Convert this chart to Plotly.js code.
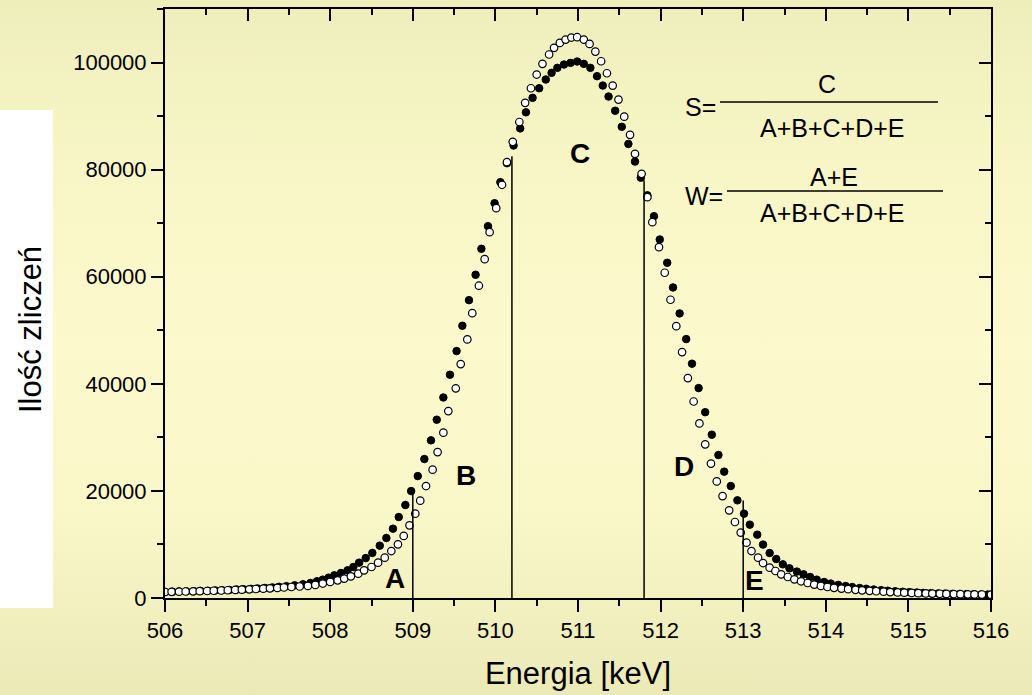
<!DOCTYPE html>
<html>
<head>
<meta charset="utf-8">
<script src="https://cdn.plot.ly/plotly-3.0.1.min.js"></script>
<style>
  html, body { margin: 0; padding: 0; }
  body {
    width: 1032px; height: 695px; overflow: hidden;
    background: linear-gradient(to bottom, #eeeebb 0%, #f8f6c6 25%, #fcfacd 50%, #f9f7c8 75%, #ebe9b6 100%);
  }
  #chart { width: 1032px; height: 695px; }
</style>
</head>
<body>
<div id="chart"></div>
<script>
// ---- data ----
const energyFilled = [506.00,506.09,506.17,506.26,506.35,506.43,506.52,506.61,506.69,506.78,506.87,506.95,507.04,507.12,507.21,507.30,507.38,507.47,507.57,507.67,507.76,507.84,507.91,507.98,508.05,508.13,508.21,508.28,508.35,508.43,508.51,508.60,508.68,508.76,508.83,508.91,508.98,509.06,509.14,509.22,509.29,509.37,509.45,509.53,509.60,509.68,509.76,509.83,509.91,509.99,510.06,510.14,510.22,510.30,510.37,510.45,510.53,510.61,510.68,510.75,510.83,510.91,510.99,511.07,511.15,511.23,511.30,511.37,511.45,511.53,511.61,511.69,511.76,511.84,511.92,511.99,512.08,512.15,512.23,512.31,512.38,512.46,512.54,512.62,512.70,512.77,512.85,512.93,513.01,513.08,513.17,513.24,513.32,513.40,513.48,513.56,513.65,513.73,513.81,513.89,513.98,514.06,514.15,514.24,514.32,514.41,514.49,514.58,514.67,514.75,514.84,514.93,515.01,515.10,515.18,515.27,515.36,515.44,515.53,515.62,515.70,515.79,515.88,515.96];
const countsFilled = [1140,1170,1200,1240,1280,1320,1360,1410,1460,1510,1570,1640,1710,1790,1880,1980,2090,2210,2370,2560,2800,3120,3430,3800,4240,4670,5170,5790,6600,7450,8420,9780,11200,12950,15120,17360,19970,22770,25950,29440,33300,37450,41700,46110,50850,55630,60370,65220,69440,73730,77660,81200,84500,87700,90700,93410,95200,96830,98080,99010,99630,99940,100190,99760,99010,97450,95700,93650,91000,88000,84800,81500,78500,75200,71310,66960,62610,58000,53150,48350,43760,39200,34700,30500,26700,23600,20910,18240,15750,13700,11830,9970,8400,7280,6290,5540,4930,4420,3920,3430,2990,2700,2450,2230,2040,1870,1720,1590,1470,1360,1260,1170,1090,1020,960,900,850,810,770,740,710,690,670,650];

const energyOpen = [506.00,506.08,506.17,506.25,506.34,506.42,506.51,506.59,506.68,506.76,506.85,506.93,507.02,507.10,507.19,507.27,507.36,507.44,507.53,507.63,507.73,507.82,507.91,508.00,508.09,508.17,508.25,508.34,508.41,508.50,508.58,508.66,508.74,508.82,508.89,508.96,509.03,509.09,509.16,509.24,509.30,509.37,509.43,509.52,509.58,509.66,509.72,509.80,509.87,509.93,510.01,510.08,510.14,510.21,510.29,510.36,510.43,510.50,510.57,510.65,510.71,510.78,510.85,510.92,510.99,511.07,511.14,511.21,511.28,511.35,511.42,511.49,511.56,511.63,511.69,511.77,511.84,511.90,511.98,512.05,512.12,512.19,512.26,512.33,512.40,512.47,512.54,512.61,512.68,512.75,512.83,512.90,512.97,513.04,513.10,513.18,513.24,513.32,513.39,513.46,513.54,513.62,513.70,513.78,513.86,513.94,514.02,514.10,514.19,514.27,514.36,514.44,514.53,514.61,514.70,514.78,514.87,514.95,515.04,515.12,515.21,515.29,515.38,515.46,515.55,515.63,515.72,515.80,515.89,516.00];
const countsOpen = [1120,1150,1180,1210,1240,1270,1310,1350,1400,1450,1500,1560,1620,1680,1740,1810,1880,1960,2050,2150,2260,2440,2700,3000,3300,3620,4050,4550,5170,5790,6600,7540,8770,10020,11600,13570,15750,18180,20910,23970,27250,30880,34910,39150,43680,48290,53200,58320,63280,68320,72800,77170,81390,85200,88900,92470,95200,97760,99760,101500,102740,103670,104290,104670,104730,104290,103480,102050,100240,98000,95700,93090,89900,86500,82950,79220,74860,70190,65520,60740,55700,50770,45920,41070,36700,32600,28700,25100,21780,19040,16370,14190,12210,10340,8770,7540,6530,5670,5040,4420,3920,3490,3120,2800,2500,2250,2050,1900,1760,1640,1530,1430,1340,1260,1180,1110,1050,990,940,900,860,820,790,760,740,710,690,670,650,630];

// region boundaries (energy) and the height each boundary line reaches
const boundaryEnergy = [509.0, 510.2, 511.8, 513.0];
const boundaryTop = [19800, 82500, 78000, 18200];

// region letters
const regionLabels = ["A", "B", "C", "D", "E"];
const regionLabelEnergy = [508.78, 509.64, 511.02, 512.28, 513.14];
const regionLabelCounts = [3700, 22900, 83000, 24600, 3300];

const xTitle = "Energia [keV]";
const yTitle = "Ilość zliczeń";
const xRange = [506, 516];
const yRange = [0, 110000];

// ---- layout helpers (pixel -> paper) ----
const M = {l: 165, r: 41, t: 9, b: 97};
const W = 1032, H = 695;
const PW = W - M.l - M.r, PH = H - M.t - M.b;
const px = x => (x - M.l) / PW;
const py = y => (H - M.b - y) / PH;

const FONT = "Liberation Sans, Arial, Helvetica, sans-serif";

const traces = [
  {
    x: energyFilled, y: countsFilled, type: "scatter", mode: "markers",
    marker: {symbol: "circle", size: 7.5, color: "#000000", line: {color: "#000000", width: 1}},
    hoverinfo: "x+y", showlegend: false
  },
  {
    x: energyOpen, y: countsOpen, type: "scatter", mode: "markers",
    marker: {symbol: "circle", size: 7.5, color: "#ffffff", line: {color: "#000000", width: 1.2}},
    hoverinfo: "x+y", showlegend: false
  },
  {
    x: energyOpen, y: countsOpen, xaxis: "x2", yaxis: "y2", type: "scatter", mode: "markers",
    marker: {size: 1, opacity: 0}, hoverinfo: "skip", showlegend: false
  }
];

const shapes = [];
// white panel behind y title
shapes.push({type: "rect", xref: "paper", yref: "paper", layer: "below",
  x0: px(0), x1: px(53), y0: py(608), y1: py(110),
  fillcolor: "#ffffff", line: {width: 0}});
// region boundary lines
boundaryEnergy.forEach((e, i) => {
  shapes.push({type: "line", xref: "x", yref: "y", x0: e, x1: e, y0: 0, y1: boundaryTop[i],
    line: {color: "#000000", width: 1.5}});
});
// fraction bars
shapes.push({type: "line", xref: "paper", yref: "paper", x0: px(720), x1: px(938), y0: py(102), y1: py(102), line: {color: "#000", width: 1.3}});
shapes.push({type: "line", xref: "paper", yref: "paper", x0: px(727), x1: px(943), y0: py(191), y1: py(191), line: {color: "#000", width: 1.3}});

const annotations = [];
regionLabels.forEach((t, i) => {
  annotations.push({x: regionLabelEnergy[i], y: regionLabelCounts[i], xref: "x", yref: "y",
    text: "<b>" + t + "</b>", showarrow: false, font: {family: FONT, size: 28, color: "#000"}});
});
const fsz = 25;
const formula = [
  ["S=", 700.5, 107],
  ["C", 826.7, 84],
  ["A+B+C+D+E", 832.7, 128],
  ["W=", 704, 196],
  ["A+E", 834, 177],
  ["A+B+C+D+E", 832.7, 213]
];
formula.forEach(f => {
  annotations.push({x: px(f[1]), y: py(f[2]), xref: "paper", yref: "paper", text: f[0],
    showarrow: false, xanchor: "center", yanchor: "middle", font: {family: FONT, size: fsz, color: "#000"}});
});
// y-axis title (placed on the white panel, lower than the plot centre as in the reference)
annotations.push({x: px(31), y: py(330), xref: "paper", yref: "paper", text: yTitle,
  textangle: -90, showarrow: false, xanchor: "center", yanchor: "middle",
  font: {family: FONT, size: 31, color: "#000"}});

const axisCommon = {
  showline: true, linecolor: "#000", linewidth: 2, mirror: false,
  showgrid: false, zeroline: false, tickcolor: "#000", tickwidth: 2, ticklen: 12
};

const layout = {
  width: W, height: H,
  margin: M,
  paper_bgcolor: "rgba(0,0,0,0)",
  plot_bgcolor: "rgba(0,0,0,0)",
  font: {family: FONT, size: 22, color: "#000"},
  showlegend: false,
  xaxis: Object.assign({}, axisCommon, {
    range: xRange, dtick: 1, tick0: 506, ticks: "outside",
    minor: {dtick: 0.5, ticks: "outside", ticklen: 6, tickwidth: 2, tickcolor: "#000"},
    tickfont: {family: FONT, size: 22},
    title: {text: xTitle, font: {family: FONT, size: 31}, standoff: 20}
  }),
  yaxis: Object.assign({}, axisCommon, {
    range: yRange, dtick: 20000, tick0: 0, ticks: "outside", tickformat: "d",
    minor: {dtick: 10000, ticks: "outside", ticklen: 6, tickwidth: 2, tickcolor: "#000"},
    tickfont: {family: FONT, size: 22}
  }),
  xaxis2: Object.assign({}, axisCommon, {
    overlaying: "x", side: "top", range: xRange, dtick: 1, tick0: 506, ticks: "inside",
    showticklabels: false,
    minor: {dtick: 0.5, ticks: "inside", ticklen: 6, tickwidth: 2, tickcolor: "#000"}
  }),
  yaxis2: Object.assign({}, axisCommon, {
    overlaying: "y", side: "right", range: yRange, dtick: 20000, tick0: 0, ticks: "inside",
    showticklabels: false,
    minor: {dtick: 10000, ticks: "inside", ticklen: 6, tickwidth: 2, tickcolor: "#000"}
  }),
  shapes: shapes,
  annotations: annotations
};

Plotly.newPlot("chart", traces, layout, {displayModeBar: false, staticPlot: true});
</script>
</body>
</html>
